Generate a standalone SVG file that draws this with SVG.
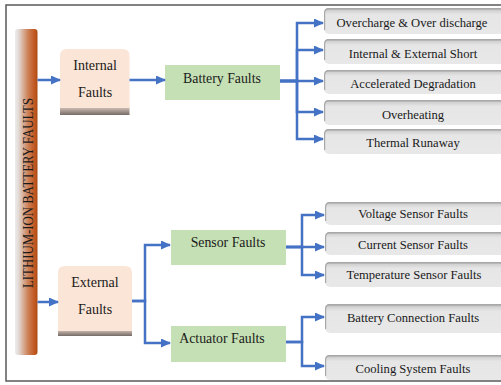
<svg xmlns="http://www.w3.org/2000/svg" width="501" height="385" viewBox="0 0 501 385">
<defs>
  <linearGradient id="barG" x1="0" y1="0" x2="1" y2="0">
    <stop offset="0" stop-color="#ececec"/>
    <stop offset="0.15" stop-color="#e2dbd7"/>
    <stop offset="0.6" stop-color="#cc7d52"/>
    <stop offset="0.9" stop-color="#c0541c"/>
    <stop offset="1" stop-color="#a94a14"/>
  </linearGradient>
  <linearGradient id="shadeG" x1="0" y1="0" x2="0" y2="1">
    <stop offset="0" stop-color="#e3d0c5"/>
    <stop offset="1" stop-color="#756b67"/>
  </linearGradient>
  <linearGradient id="grayG" x1="0" y1="0" x2="0" y2="1">
    <stop offset="0" stop-color="#9a9a9a"/>
    <stop offset="0.1" stop-color="#d2d2d2"/>
    <stop offset="0.25" stop-color="#e6e6e6"/>
    <stop offset="1" stop-color="#e8e8e8"/>
  </linearGradient>
  <marker id="ah" markerUnits="userSpaceOnUse" markerWidth="10" markerHeight="9" refX="9" refY="4.5" orient="auto">
    <path d="M0,0 L10,4.5 L0,9 z" fill="#4472c4"/>
  </marker>
</defs>
<style>
  .conn path { fill: none; stroke: #4472c4; stroke-width: 2.5; marker-end: url(#ah); }
  .peach { fill: #fbe5d6; }
  .green { fill: #c5e0b4; }
  .gray { fill: url(#grayG); }
  .edge { fill: none; stroke: #a8a8a8; stroke-width: 1.2; }
  text { font-family: "Liberation Serif", "Times New Roman", serif; fill: #1a1a1a; }
  .t14 { font-size: 14px; text-anchor: middle; }
  .t13 { font-size: 13.8px; text-anchor: middle; }
  .t12 { font-size: 12.6px; text-anchor: middle; }
</style>
<rect x="0" y="0" width="501" height="385" fill="#ffffff"/>
<rect x="6" y="5" width="500" height="376" fill="#ffffff" stroke="#595959" stroke-width="1.5"/>

<g id="root">
  <rect x="15" y="29" width="22.5" height="326" rx="3" fill="url(#barG)"/>
  <text transform="translate(33,193) rotate(-90)" text-anchor="middle" font-size="14" fill="#111111" textLength="190" lengthAdjust="spacingAndGlyphs">LITHIUM-ION BATTERY FAULTS</text>
</g>

<g id="internal">
  <rect x="60" y="106" width="69.5" height="9" fill="url(#shadeG)"/>
  <path class="peach" d="M60,108 V56 Q60,49 67,49 H122.5 Q129.5,49 129.5,56 V108 z"/>
  <text class="t14" x="95" y="70">Internal</text>
  <text class="t14" x="95" y="97">Faults</text>
</g>

<g id="external">
  <rect x="58" y="329" width="74" height="7" fill="url(#shadeG)"/>
  <path class="peach" d="M58,331 V273 Q58,266 65,266 H125 Q132,266 132,273 V331 z"/>
  <text class="t14" x="95" y="287">External</text>
  <text class="t14" x="95" y="314">Faults</text>
</g>

<g id="battery">
  <rect class="green" x="165" y="65" width="115" height="35"/>
  <text class="t13" x="222" y="83">Battery Faults</text>
</g>
<g id="sensor">
  <rect class="green" x="171" y="230" width="115" height="35"/>
  <text class="t13" x="228" y="247">Sensor Faults</text>
</g>
<g id="actuator">
  <rect class="green" x="171" y="326" width="115" height="36"/>
  <text class="t13" x="222" y="343">Actuator Faults</text>
</g>

<g id="overcharge">
  <rect class="gray" x="324" y="8" width="190" height="26" rx="5"/>
  <path class="edge" d="M324.6,30 V13 Q324.6,8.6 329,8.6 H514"/>
  <text class="t12" x="412" y="27">Overcharge &amp; Over discharge</text>
</g>
<g id="short">
  <rect class="gray" x="324" y="39" width="190" height="25" rx="5"/>
  <path class="edge" d="M324.6,60 V44 Q324.6,39.6 329,39.6 H514"/>
  <text class="t12" x="413" y="58">Internal &amp; External Short</text>
</g>
<g id="degradation">
  <rect class="gray" x="324" y="70" width="190" height="24" rx="5"/>
  <path class="edge" d="M324.6,90 V75 Q324.6,70.6 329,70.6 H514"/>
  <text class="t12" x="413" y="88">Accelerated Degradation</text>
</g>
<g id="overheating">
  <rect class="gray" x="324" y="100" width="190" height="25" rx="5"/>
  <path class="edge" d="M324.6,121 V105 Q324.6,100.6 329,100.6 H514"/>
  <text class="t12" x="413" y="119">Overheating</text>
</g>
<g id="runaway">
  <rect class="gray" x="324" y="129" width="190" height="25" rx="5"/>
  <path class="edge" d="M324.6,150 V134 Q324.6,129.6 329,129.6 H514"/>
  <text class="t12" x="413" y="147">Thermal Runaway</text>
</g>

<g id="voltage">
  <rect class="gray" x="325" y="202" width="190" height="23" rx="5"/>
  <path class="edge" d="M325.6,221 V207 Q325.6,202.6 330,202.6 H515"/>
  <text class="t12" x="413" y="218">Voltage Sensor Faults</text>
</g>
<g id="current">
  <rect class="gray" x="325" y="232" width="190" height="23" rx="5"/>
  <path class="edge" d="M325.6,251 V237 Q325.6,232.6 330,232.6 H515"/>
  <text class="t12" x="413" y="249">Current Sensor Faults</text>
</g>
<g id="temperature">
  <rect class="gray" x="325" y="262" width="190" height="25" rx="5"/>
  <path class="edge" d="M325.6,283 V267 Q325.6,262.6 330,262.6 H515"/>
  <text class="t12" x="414" y="279">Temperature Sensor Faults</text>
</g>
<g id="connection">
  <rect class="gray" x="325" y="304" width="190" height="29" rx="5"/>
  <path class="edge" d="M325.6,329 V309 Q325.6,304.6 330,304.6 H515"/>
  <text class="t12" x="413" y="322">Battery Connection Faults</text>
</g>
<g id="cooling">
  <rect class="gray" x="325" y="355" width="190" height="25" rx="5"/>
  <path class="edge" d="M325.6,376 V360 Q325.6,355.6 330,355.6 H515"/>
  <text class="t12" x="413" y="373">Cooling System Faults</text>
</g>

<g id="connectors" class="conn">
  <path d="M37.5,80 H60"/>
  <path d="M37.5,302 H58"/>
  <path d="M129.5,80 H165"/>
  <path d="M280,81 H297 V23 H323"/>
  <path d="M280,81 H297 V50 H323"/>
  <path d="M280,81 H323"/>
  <path d="M280,81 H297 V112 H323"/>
  <path d="M280,81 H297 V139 H323"/>
  <path d="M132,301 H145 V245 H170"/>
  <path d="M132,301 H145 V343 H170"/>
  <path d="M286,247 H302 V215 H324"/>
  <path d="M286,247 H324"/>
  <path d="M286,247 H302 V275 H324"/>
  <path d="M286,342 H302 V317 H324"/>
  <path d="M286,342 H302 V366 H324"/>
</g>
</svg>
